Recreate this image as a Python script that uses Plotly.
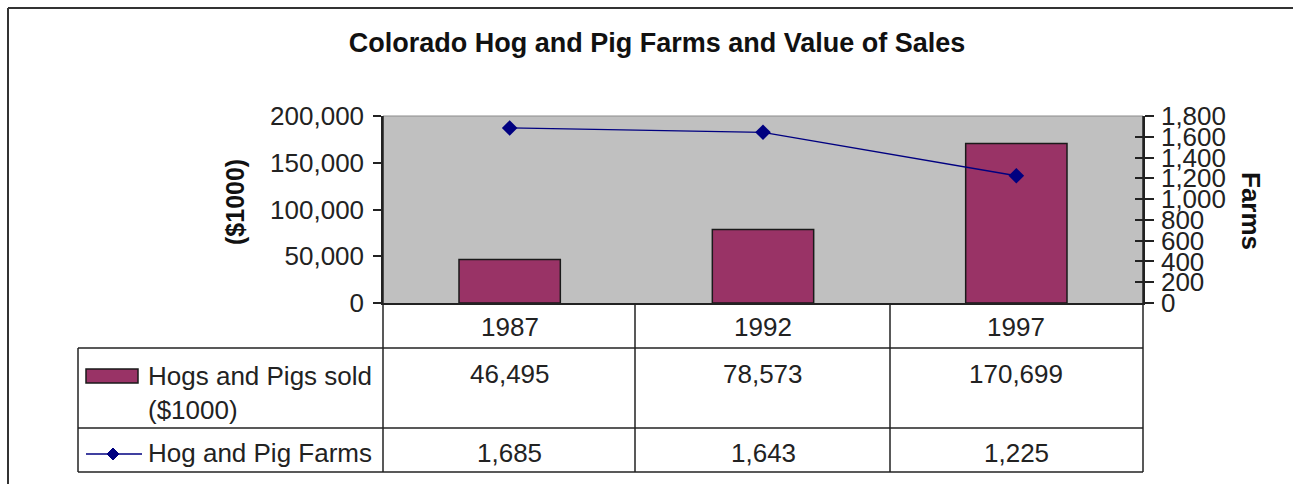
import plotly.graph_objects as go

# Census of agriculture, Colorado
years = ["1987", "1992", "1997"]
sales_k = [46495, 78573, 170699]        # Hogs and pigs sold, $1000
farms = [1685, 1643, 1225]              # Hog and pig farms
sales_name = "Hogs and Pigs sold ($1000)"
farms_name = "Hog and Pig Farms"
title_text = "Colorado Hog and Pig Farms and Value of Sales"

W, H = 1293, 484
L, R, T, B = 383, 1143, 116, 303        # plot area in page pixels
FONT = "Arial, Liberation Sans, sans-serif"
BAR = "#993366"
LINE = "#000080"
INK = "#222222"


def px(x):
    return (x - L) / (R - L)


def py(y):
    return (B - y) / (B - T)


fig = go.Figure()
fig.add_trace(go.Bar(
    x=years, y=sales_k, name=sales_name,
    marker=dict(color=BAR, line=dict(color="#1a1a1a", width=1.5)),
    yaxis="y",
))
fig.add_trace(go.Scatter(
    x=years, y=farms, name=farms_name, mode="lines+markers",
    line=dict(color=LINE, width=1.3),
    marker=dict(symbol="diamond", size=12, color=LINE),
    yaxis="y2", cliponaxis=False,
))
# invisible trace so the inner tick marks of the right axis are drawn
fig.add_trace(go.Scatter(x=[years[0]], y=[0], yaxis="y3", mode="markers",
                         marker=dict(opacity=0), hoverinfo="skip"))

tick_font = dict(family=FONT, size=26, color=INK)
txt_font = dict(family=FONT, size=26, color=INK)

shapes = []


def hline(y, x0, x1, color=INK, width=1.5):
    shapes.append(dict(type="line", xref="paper", yref="paper",
                       x0=px(x0), x1=px(x1), y0=py(y), y1=py(y),
                       line=dict(color=color, width=width)))


def vline(x, y0, y1, color=INK, width=1.5):
    shapes.append(dict(type="line", xref="paper", yref="paper",
                       x0=px(x), x1=px(x), y0=py(y0), y1=py(y1),
                       line=dict(color=color, width=width)))


# outer frame
hline(8, 8, W + 10, color="#333333", width=2)
vline(8, 8, H + 10, color="#333333", width=2)
# plot area top edge
hline(T, L, R, color="#8c8c8c", width=1.2)
# axes carried down through the data table
vline(L, T, 472)
vline(R, T, 472)
# data table grid
vline(635, B, 472)
vline(890, B, 472)
vline(78, 348, 472)
for yy in (348, 428, 472):
    hline(yy, 78, R)

# legend keys in the table
shapes.append(dict(type="rect", xref="paper", yref="paper",
                   x0=px(86), x1=px(138), y0=py(383), y1=py(369),
                   fillcolor=BAR, line=dict(color="#1a1a1a", width=1.5)))
hline(454, 86, 142, color=LINE, width=1.3)
shapes.append(dict(type="path", xref="paper", yref="paper",
                   xsizemode="pixel", ysizemode="pixel",
                   xanchor=px(113), yanchor=py(454),
                   path="M -6 0 L 0 6 L 6 0 L 0 -6 Z",
                   fillcolor=LINE, line=dict(color=LINE, width=1)))

annotations = []

# category row and values (x given as category index)
for i, yr in enumerate(years):
    for yy, text in ((327, yr), (374, f"{sales_k[i]:,}"), (453, f"{farms[i]:,}")):
        annotations.append(dict(x=i, xref="x", y=py(yy), yref="paper",
                                text=text, showarrow=False, font=txt_font,
                                xanchor="center", yanchor="middle"))

# series names in the table
name_a, name_b = sales_name.rsplit(" ", 1)
for yy, text in ((376, name_a), (410, name_b), (453, farms_name)):
    annotations.append(dict(x=px(146), y=py(yy), xref="paper", yref="paper",
                            text=text, showarrow=False, font=txt_font,
                            xanchor="left", yanchor="middle"))

# axis titles
annotations += [
    dict(x=px(235), y=py(202), xref="paper", yref="paper", text="<b>($1000)</b>",
         textangle=-90, showarrow=False,
         font=dict(family=FONT, size=25, color="#111111"),
         xanchor="center", yanchor="middle"),
    dict(x=px(1251), y=py(211), xref="paper", yref="paper", text="<b>Farms</b>",
         textangle=90, showarrow=False,
         font=dict(family=FONT, size=26, color="#111111"),
         xanchor="center", yanchor="middle"),
]

fig.update_layout(
    width=W, height=H,
    margin=dict(l=L, r=W - R, t=T, b=H - B, autoexpand=False),
    paper_bgcolor="white",
    plot_bgcolor="#C0C0C0",
    showlegend=False,
    bargap=0.6,
    title=dict(text=f"<b>{title_text}</b>", x=657 / W, xref="container",
               xanchor="center", y=1 - 43 / H, yref="container", yanchor="middle",
               font=dict(family=FONT, size=27, color="#111111")),
    xaxis=dict(type="category", range=[-0.5, len(years) - 0.5],
               showticklabels=False, ticks="",
               showgrid=False, zeroline=False, showline=True,
               linecolor=INK, linewidth=1.5),
    yaxis=dict(range=[0, 200000], dtick=50000, tickformat=",",
               showgrid=False, zeroline=False, showline=True,
               linecolor=INK, linewidth=1.5,
               ticks="outside", ticklen=8, tickwidth=1.5, tickcolor=INK,
               ticklabelstandoff=4, tickfont=tick_font),
    yaxis2=dict(range=[0, 1800], dtick=200, tickformat=",", overlaying="y",
                side="right", showgrid=False, zeroline=False, showline=True,
                linecolor=INK, linewidth=1.5,
                ticks="outside", ticklen=9, tickwidth=1.5, tickcolor=INK,
                ticklabelstandoff=2, tickfont=tick_font),
    yaxis3=dict(range=[0, 1800], dtick=200, overlaying="y", side="right",
                showgrid=False, zeroline=False, showline=False,
                ticks="inside", ticklen=8, tickwidth=1.5, tickcolor=INK,
                showticklabels=False),
    shapes=shapes,
    annotations=annotations,
)

fig.write_html("out.html")
